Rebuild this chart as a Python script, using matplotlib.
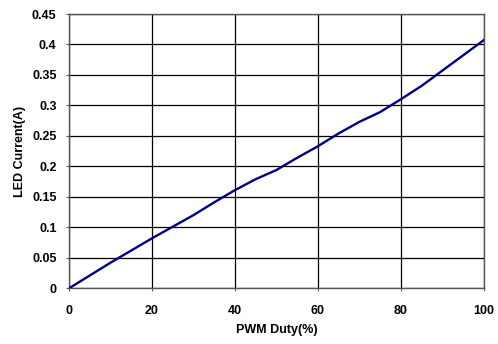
import matplotlib.pyplot as plt

plt.rcParams["font.family"] = ["Liberation Sans", "DejaVu Sans"]
plt.rcParams["font.weight"] = "bold"

# PWM duty cycle sweep (%) and measured LED current (A)
duty = [0, 5, 10, 15, 20, 25, 30, 35, 40, 45, 50,
        55, 60, 65, 70, 75, 80, 85, 90, 95, 100]
current = [0.0, 0.021, 0.042, 0.062, 0.082, 0.101, 0.120, 0.141, 0.161, 0.179, 0.194,
           0.214, 0.233, 0.254, 0.273, 0.289, 0.310, 0.332, 0.357, 0.382, 0.407]

x_ticks = [0, 20, 40, 60, 80, 100]
y_ticks = [0, 0.05, 0.1, 0.15, 0.2, 0.25, 0.3, 0.35, 0.4, 0.45]
y_labels = ["0", "0.05", "0.1", "0.15", "0.2", "0.25", "0.3", "0.35", "0.4", "0.45"]

fig = plt.figure(figsize=(4.98, 3.44), dpi=100)
ax = fig.add_axes([0.1386, 0.1619, 0.8327, 0.7974])

ax.plot(duty, current, color="#000080", linewidth=1.7, zorder=3)

ax.set_xlim(0, 100)
ax.set_ylim(0, 0.45)
ax.set_xticks(x_ticks)
ax.set_yticks(y_ticks)
ax.set_yticklabels(y_labels)
ax.grid(True, color="black", linewidth=0.9)
ax.set_axisbelow(True)

for s in ax.spines.values():
    s.set_color("#555555")
    s.set_linewidth(1.0)

ax.tick_params(axis="both", labelsize=9, length=2, width=0.8, color="#555555")
ax.tick_params(axis="y", pad=7)
ax.tick_params(axis="x", pad=10)

ax.set_xlabel("PWM Duty(%)", fontsize=9, fontweight="bold", labelpad=5)
ax.set_ylabel("LED Current(A)", fontsize=9, fontweight="bold", labelpad=4)

fig.savefig("out.png", dpi=100)
